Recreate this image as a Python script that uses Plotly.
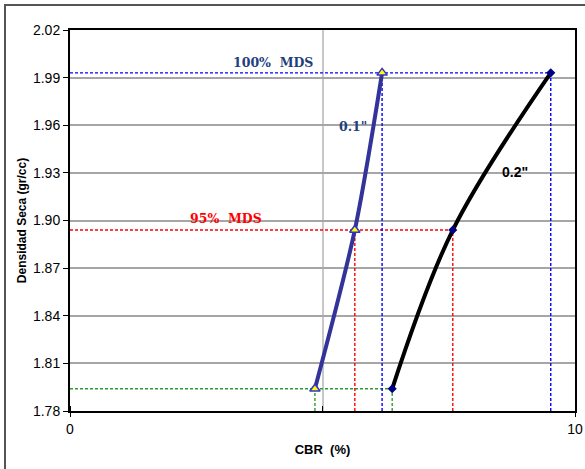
import plotly.graph_objects as go

# Data
densidad = [1.794, 1.894, 1.993]          # dry density (gr/cc): 90%, 95%, 100% MDS
cbr_01 = [4.85, 5.64, 6.18]               # CBR at 0.1"
cbr_02 = [6.38, 7.58, 9.52]               # CBR at 0.2"
level_colors = ["#2E9B2E", "#FF0000", "#0000FF"]
x_ticks = [0, 10]
x_ticktext = ["0", "10"]

fig = go.Figure()

# Guide lines (dashed) derived from the data
dash = "3px,2px"
for d, c01, c02, col in zip(densidad, cbr_01, cbr_02, level_colors):
    fig.add_trace(go.Scatter(x=[0, c02], y=[d, d], mode="lines",
                             line=dict(color=col, width=1.4, dash=dash),
                             hoverinfo="skip", showlegend=False))
    for cx in (c01, c02):
        fig.add_trace(go.Scatter(x=[cx, cx], y=[1.78, d], mode="lines",
                                 line=dict(color=col, width=1.4, dash=dash),
                                 hoverinfo="skip", showlegend=False))

# Curves
fig.add_trace(go.Scatter(x=cbr_01, y=densidad, mode="lines+markers", name='0.1"',
                         line=dict(color="#333399", width=4, shape="spline", smoothing=0.8),
                         marker=dict(symbol="triangle-up", size=9, color="#FFFF00",
                                     line=dict(color="#3333CC", width=1.5)),
                         showlegend=False))
fig.add_trace(go.Scatter(x=cbr_02, y=densidad, mode="lines+markers", name='0.2"',
                         line=dict(color="#000000", width=4, shape="spline", smoothing=1),
                         marker=dict(symbol="diamond", size=7, color="#000080"),
                         showlegend=False))

serif = "DejaVu Serif"
fig.add_annotation(x=4.02, y=1.9998, text="<b>100%  MDS</b>", showarrow=False,
                   font=dict(family=serif, size=12.5, color="#1F3F7F"))
fig.add_annotation(x=3.09, y=1.901, text="<b>95%  MDS</b>", showarrow=False,
                   font=dict(family=serif, size=12.5, color="#FF0000"))
fig.add_annotation(x=5.6, y=1.9595, text='<b>0.1"</b>', showarrow=False,
                   font=dict(family=serif, size=12.5, color="#1F3F7F"))
fig.add_annotation(x=8.81, y=1.9306, text='<b>0.2"</b>', showarrow=False,
                   font=dict(family="Liberation Sans", size=14, color="#000000"))

# Outer chart border (only left and top edges fall inside the picture)
fig.add_shape(type="rect", xref="paper", yref="paper",
              x0=-0.1287, x1=1.2, y0=-0.3, y1=1.0656,
              line=dict(color="#555555", width=2), layer="below")

fig.update_layout(
    width=585, height=469,
    margin=dict(l=70, r=10, t=30, b=58, autoexpand=False),
    paper_bgcolor="white", plot_bgcolor="white",
    font=dict(family="Liberation Sans", size=14, color="#000000"),
)
fig.update_xaxes(
    range=[0, 10], tickvals=x_ticks, ticktext=x_ticktext, automargin=False,
    showgrid=False, zeroline=False,
    showline=True, linecolor="black", linewidth=2, mirror=True,
    ticks="outside", ticklen=4, tickcolor="black",
    minor=dict(dtick=5, showgrid=True, gridcolor="#C8C8C8", gridwidth=1.5,
               ticks="inside", ticklen=5, tickcolor="black"),
    title=dict(text="<b>CBR  (%)</b>", font=dict(size=13), standoff=9),
)
fig.update_yaxes(
    range=[1.78, 2.02], dtick=0.03, tick0=1.78, tickformat=".2f", automargin=False,
    showgrid=True, gridcolor="#A6A6A6", gridwidth=1.5, zeroline=False,
    showline=True, linecolor="black", linewidth=2, mirror=True,
    ticks="outside", ticklen=5, tickcolor="black",
    title=dict(text="<b>Densidad Seca (gr/cc)</b>", font=dict(size=12), standoff=4),
)

fig.write_html("out.html")
